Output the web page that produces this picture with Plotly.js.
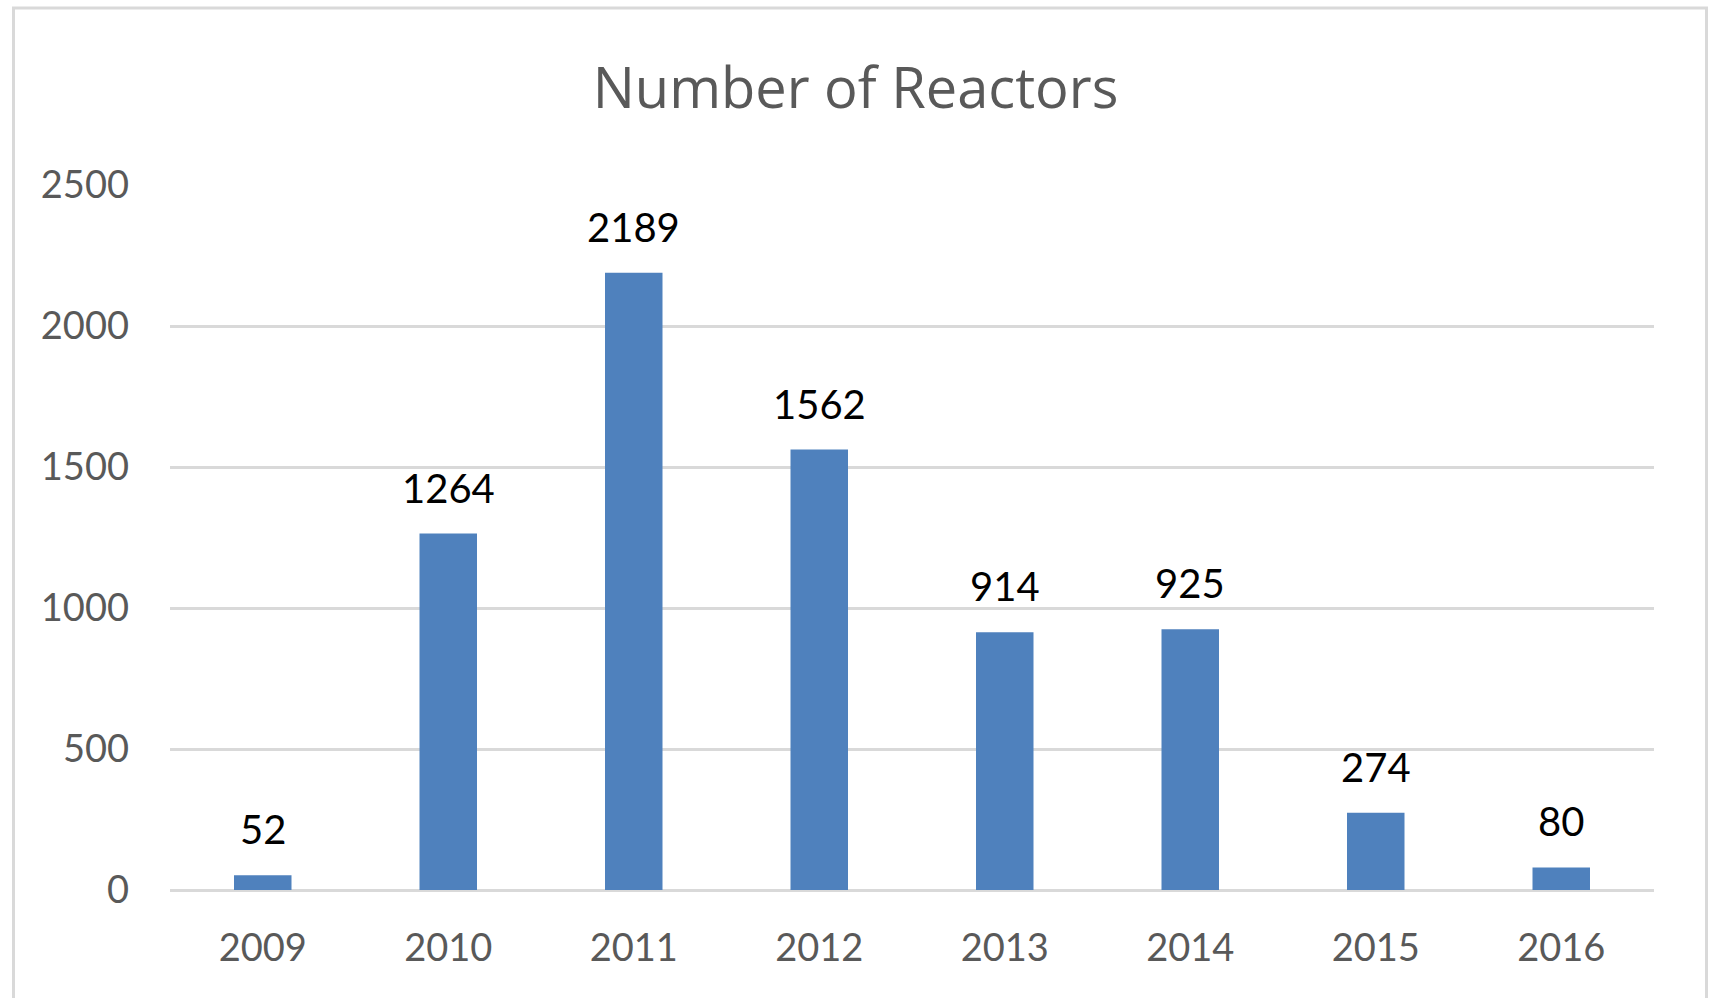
<!DOCTYPE html>
<html>
<head>
<meta charset="utf-8">
<script src="https://cdn.plot.ly/plotly-3.0.1.min.js"></script>
<style>html,body{margin:0;padding:0;background:#fff;}#chart{width:1711px;height:998px;}</style>
</head>
<body>
<div id="chart"></div>
<script>
const years = ["2009", "2010", "2011", "2012", "2013", "2014", "2015", "2016"];
const reactors = [52, 1264, 2189, 1562, 914, 925, 274, 80];
const yTicks = [0, 500, 1000, 1500, 2000, 2500];
const chartTitle = "Number of Reactors";

const W = 1711, H = 998;
const mL = 170, mR = 57, mT = 185, mB = 108;
const pw = W - mL - mR, ph = H - mT - mB;
const px2x = p => (p - mL) / pw;
const py2y = p => (H - mB - p) / ph;

const annotations = years.map((y, i) => ({
  x: i, y: reactors[i], xref: 'x', yref: 'y',
  text: String(reactors[i]), showarrow: false,
  yanchor: 'bottom', yshift: 20,
  font: {family: 'Lato, "Open Sans", sans-serif', size: 40, color: '#000000'}
}));

const data = [{
  type: 'bar', x: years, y: reactors,
  marker: {color: '#4f81bd'},
  hoverinfo: 'x+y'
}];

const layout = {
  width: W, height: H, autosize: false,
  margin: {l: mL, r: mR, t: mT, b: mB, pad: 0},
  paper_bgcolor: '#ffffff', plot_bgcolor: '#ffffff',
  showlegend: false,
  bargap: 0.69,
  title: {
    text: chartTitle, x: 0.5, xref: 'container', xanchor: 'center',
    y: 1 - 88 / H, yref: 'container', yanchor: 'middle',
    font: {family: '"Open Sans", Lato, sans-serif', size: 56, color: '#595959'}
  },
  xaxis: {
    type: 'category', range: [-0.5, years.length - 0.5],
    showgrid: false, zeroline: false, showline: false,
    ticks: '', ticklabelstandoff: 32,
    tickfont: {family: 'Lato, "Open Sans", sans-serif', size: 38, color: '#595959'}
  },
  yaxis: {
    range: [0, 2500], tickvals: yTicks, ticktext: yTicks.map(String),
    showgrid: true, gridcolor: '#d9d9d9', gridwidth: 3,
    zeroline: true, zerolinecolor: '#d9d9d9', zerolinewidth: 3,
    showline: false, ticks: '', ticklabelstandoff: 40,
    tickfont: {family: 'Lato, "Open Sans", sans-serif', size: 38, color: '#595959'}
  },
  annotations: annotations,
  shapes: [{
    type: 'rect', xref: 'paper', yref: 'paper', layer: 'below',
    x0: px2x(13.5), x1: px2x(1706.5), y0: py2y(1010), y1: py2y(8),
    line: {color: '#d9d9d9', width: 3}, fillcolor: 'rgba(0,0,0,0)'
  }]
};

Plotly.newPlot('chart', data, layout, {displayModeBar: false, staticPlot: true});
</script>
</body>
</html>
